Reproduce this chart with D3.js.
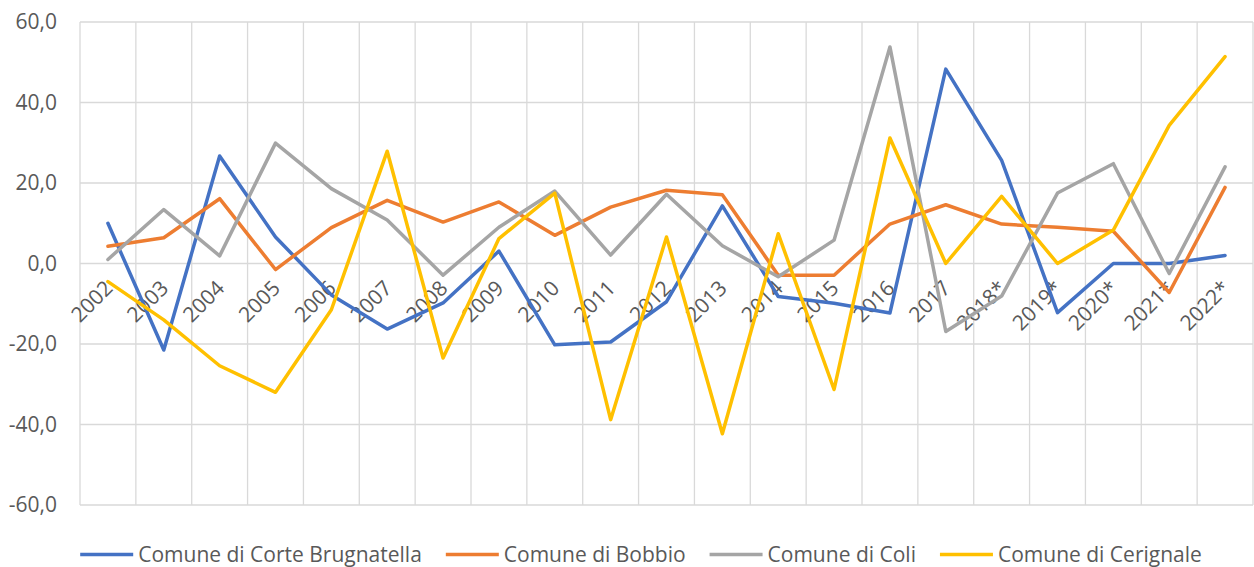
<!DOCTYPE html>
<html><head><meta charset="utf-8">
<script src="https://cdn.jsdelivr.net/npm/d3@7"></script>
<style>
html,body{margin:0;padding:0;background:#fff;}
svg text{font-family:"Open Sans",sans-serif;fill:#595959;}
</style></head>
<body>
<svg id="chart" width="1254" height="567"></svg>
<script>
const years = ["2002","2003","2004","2005","2006","2007","2008","2009","2010","2011","2012","2013","2014","2015","2016","2017","2018*","2019*","2020*","2021*","2022*"];
const seriesNames = ["Comune di Corte Brugnatella","Comune di Bobbio","Comune di Coli","Comune di Cerignale"];
const corteBrugnatella = [10.0,-21.5,26.7,6.6,-7.8,-16.3,-9.8,3.1,-20.2,-19.5,-9.5,14.3,-8.2,-9.9,-12.3,48.3,25.6,-12.2,0.0,0.0,2.0];
const bobbio = [4.3,6.4,16.1,-1.5,8.9,15.7,10.3,15.3,7.0,14.0,18.2,17.1,-2.9,-2.9,9.8,14.6,9.8,9.0,8.0,-7.2,18.9];
const coli = [1.0,13.4,1.9,29.9,18.6,10.8,-2.9,9.0,18.0,2.1,17.2,4.4,-3.3,5.8,53.8,-16.9,-8.1,17.5,24.8,-2.5,24.0];
const cerignale = [-4.5,-14.0,-25.4,-32.0,-11.5,27.9,-23.5,6.2,17.5,-38.8,6.6,-42.3,7.4,-31.3,31.2,0.0,16.7,0.0,8.3,34.3,51.4];
const colors = ["#4472C4","#ED7D31","#A5A5A5","#FFC000"];
const yTicks = [-60,-40,-20,0,20,40,60];

const allSeries = [corteBrugnatella,bobbio,coli,cerignale];
const svg = d3.select("#chart");
const m = {left:80, right:1253, top:22, bottom:505};

const x = d3.scaleBand().domain(years).range([m.left,m.right]).paddingInner(0).paddingOuter(0);
const y = d3.scaleLinear().domain([-60,60]).range([m.bottom,m.top]);
const loc = d3.formatLocale({decimal:",",thousands:".",grouping:[3],currency:["","€"],minus:"-"});
const fmt = loc.format(".1f");

// grid
const grid = svg.append("g");
grid.selectAll("line.h").data(yTicks).join("line")
  .attr("x1",m.left).attr("x2",m.right)
  .attr("y1",d=>y(d)).attr("y2",d=>y(d))
  .attr("stroke","#D9D9D9").attr("stroke-width",1.3);
const bounds = years.map(d=>x(d)).concat([m.right]);
grid.selectAll("line.v").data(bounds).join("line")
  .attr("x1",d=>d).attr("x2",d=>d)
  .attr("y1",m.top).attr("y2",m.bottom)
  .attr("stroke","#D9D9D9").attr("stroke-width",1.3);

// y labels
const yAxis = d3.axisLeft(y).tickValues(yTicks).tickFormat(fmt).tickSize(0).tickPadding(0);
const ya = svg.append("g").attr("transform",`translate(${m.left-23},0)`).call(yAxis);
ya.select(".domain").remove();
ya.selectAll("text").style("font-size","21px").attr("fill","#595959").attr("font-family","Open Sans");

// x labels near zero line
const xl = svg.append("g");
xl.selectAll("text").data(years).join("text")
  .attr("transform",d=>`translate(${x(d)+x.bandwidth()/2+6},${y(0)+26}) rotate(-45)`)
  .attr("text-anchor","end")
  .style("font-size","21px")
  .text(d=>d);

// lines
const line = d3.line().x((d,i)=>x(years[i])+x.bandwidth()/2).y(d=>y(d));
svg.append("g").selectAll("path").data(allSeries).join("path")
  .attr("d",line).attr("fill","none")
  .attr("stroke",(d,i)=>colors[i]).attr("stroke-width",3.5)
  .attr("stroke-linejoin","round").attr("stroke-linecap","round");

// legend
const lg = svg.append("g");
const items = lg.selectAll("g").data(seriesNames).join("g");
items.append("line").attr("x1",0).attr("x2",53).attr("y1",0).attr("y2",0)
  .attr("stroke",(d,i)=>colors[i]).attr("stroke-width",3.5);
items.append("text").attr("x",58).attr("y",7.5).style("font-size","21px").text(d=>d);
const gap = 24;
const widths = items.nodes().map(n=>58 + d3.select(n).select("text").node().getComputedTextLength());
const total = d3.sum(widths)+gap*(widths.length-1);
let cur = 641 - total/2;
items.attr("transform",(d,i)=>{const t=`translate(${cur},554.5)`; cur+=widths[i]+gap; return t;});
</script>
</body></html>
